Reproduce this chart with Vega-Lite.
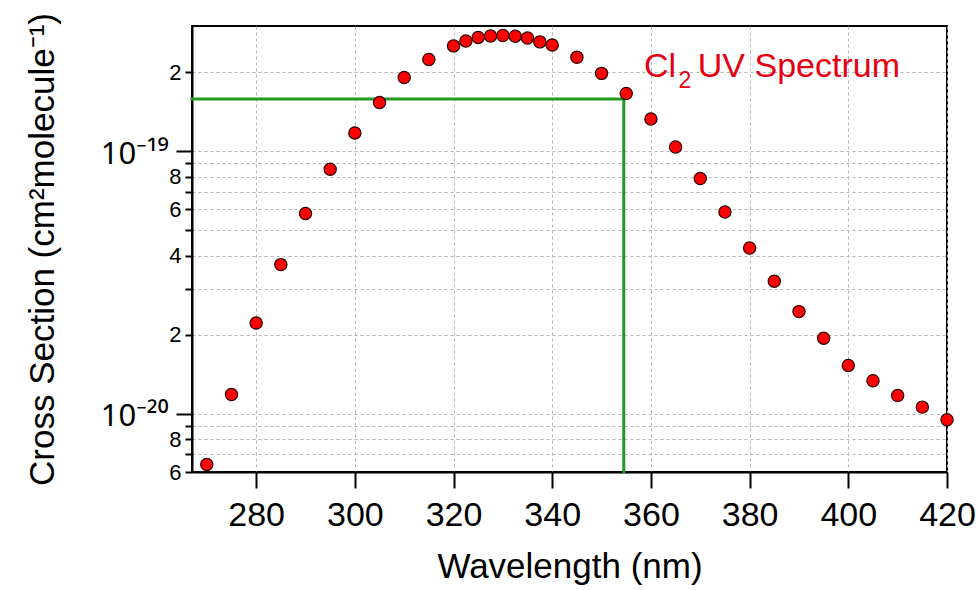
{
  "$schema": "https://vega.github.io/schema/vega-lite/v6.json",
  "width": 755,
  "height": 446,
  "autosize": {"type": "none"},
  "padding": {"left": 192, "top": 26, "right": 31, "bottom": 118},
  "background": "white",
  "config": {
    "view": {"stroke": "black", "strokeWidth": 2},
    "font": "Liberation Sans"
  },
  "encoding": {
    "x": {
      "field": "wavelength",
      "type": "quantitative",
      "scale": {"domain": [267, 420], "nice": false, "zero": false},
      "axis": {
        "title": "Wavelength (nm)",
        "values": [280, 300, 320, 340, 360, 380, 400, 420],
        "format": "d",
        "labelFont": "Liberation Sans",
        "labelFontSize": 34,
        "labelColor": "black",
        "labelFlush": false,
        "labelPadding": 10,
        "tickSize": 16,
        "tickWidth": 2,
        "tickColor": "black",
        "domainColor": "black",
        "domainWidth": 2,
        "titleFont": "Liberation Sans",
        "titleFontSize": 35,
        "titleFontWeight": "normal",
        "titleColor": "black",
        "titlePadding": 17,
        "grid": true,
        "gridColor": "#b4b4b4",
        "gridDash": [3, 3],
        "gridWidth": 1
      }
    },
    "y": {
      "field": "cs",
      "type": "quantitative",
      "scale": {"type": "log", "domain": [6e-21, 3e-19], "nice": false},
      "axis": {
        "title": "Cross Section (cm²molecule⁻¹)",
        "values": [6e-21, 7e-21, 8e-21, 9e-21, 1e-20, 2e-20, 3e-20, 4e-20, 5e-20, 6e-20, 7e-20, 8e-20, 9e-20, 1e-19, 2e-19],
        "labelExpr": "abs(log(datum.value)/LN10 - round(log(datum.value)/LN10)) < 1e-6 ? (datum.value < 5e-20 ? '10⁻²⁰' : '10⁻¹⁹') : (round(datum.value/pow(10, floor(log(datum.value)/LN10 + 1e-6))) % 2 == 0 ? toString(round(datum.value/pow(10, floor(log(datum.value)/LN10 + 1e-6)))) : '')",
        "labelOverlap": false,
        "labelFont": {"condition": {"test": "abs(log(datum.value)/LN10 - round(log(datum.value)/LN10)) < 1e-6", "value": "Noto Sans"}, "value": "Liberation Sans"},
        "labelFontSize": {"condition": {"test": "abs(log(datum.value)/LN10 - round(log(datum.value)/LN10)) < 1e-6", "value": 31}, "value": 22},
        "labelPadding": {"condition": {"test": "abs(log(datum.value)/LN10 - round(log(datum.value)/LN10)) < 1e-6", "value": 8}, "value": 4},
        "labelOffset": {"condition": {"test": "abs(log(datum.value)/LN10 - round(log(datum.value)/LN10)) < 1e-6", "value": 3}, "value": 0},
        "labelColor": "black",
        "tickSize": {"condition": {"test": "abs(log(datum.value)/LN10 - round(log(datum.value)/LN10)) < 1e-6", "value": 16}, "value": 7},
        "tickWidth": 2,
        "tickColor": "black",
        "domainColor": "black",
        "domainWidth": 2,
        "titleFont": "Liberation Sans",
        "titleFontSize": 35,
        "titleFontWeight": "normal",
        "titleColor": "black",
        "titlePadding": 40,
        "grid": true,
        "gridColor": "#b4b4b4",
        "gridDash": [3, 3],
        "gridWidth": 1
      }
    }
  },
  "layer": [
    {
      "data": {"values": [
        {"wavelength": 267, "wavelength2": 354.5, "cs": 1.583e-19, "cs2": 1.583e-19},
        {"wavelength": 354.5, "wavelength2": 354.5, "cs": 6e-21, "cs2": 1.583e-19}
      ]},
      "mark": {"type": "rule", "color": "#229a22", "strokeWidth": 3, "strokeCap": "square"},
      "encoding": {
        "x2": {"field": "wavelength2"},
        "y2": {"field": "cs2"}
      }
    },
    {
      "data": {"values": [
        {"wavelength": 270, "cs": 6.41e-21},
        {"wavelength": 275, "cs": 1.185e-20},
        {"wavelength": 280, "cs": 2.215e-20},
        {"wavelength": 285, "cs": 3.70e-20},
        {"wavelength": 290, "cs": 5.79e-20},
        {"wavelength": 295, "cs": 8.54e-20},
        {"wavelength": 300, "cs": 1.174e-19},
        {"wavelength": 305, "cs": 1.534e-19},
        {"wavelength": 310, "cs": 1.91e-19},
        {"wavelength": 315, "cs": 2.237e-19},
        {"wavelength": 320, "cs": 2.52e-19},
        {"wavelength": 322.5, "cs": 2.63e-19},
        {"wavelength": 325, "cs": 2.713e-19},
        {"wavelength": 327.5, "cs": 2.75e-19},
        {"wavelength": 330, "cs": 2.76e-19},
        {"wavelength": 332.5, "cs": 2.744e-19},
        {"wavelength": 335, "cs": 2.70e-19},
        {"wavelength": 337.5, "cs": 2.61e-19},
        {"wavelength": 340, "cs": 2.54e-19},
        {"wavelength": 345, "cs": 2.28e-19},
        {"wavelength": 350, "cs": 1.98e-19},
        {"wavelength": 355, "cs": 1.66e-19},
        {"wavelength": 360, "cs": 1.327e-19},
        {"wavelength": 365, "cs": 1.038e-19},
        {"wavelength": 370, "cs": 7.87e-20},
        {"wavelength": 375, "cs": 5.87e-20},
        {"wavelength": 380, "cs": 4.28e-20},
        {"wavelength": 385, "cs": 3.20e-20},
        {"wavelength": 390, "cs": 2.45e-20},
        {"wavelength": 395, "cs": 1.94e-20},
        {"wavelength": 400, "cs": 1.528e-20},
        {"wavelength": 405, "cs": 1.336e-20},
        {"wavelength": 410, "cs": 1.174e-20},
        {"wavelength": 415, "cs": 1.06e-20},
        {"wavelength": 420, "cs": 9.49e-21}
      ]},
      "mark": {"type": "point", "shape": "circle", "filled": true, "fill": "#ff0000", "stroke": "#2a0000", "strokeWidth": 1.2, "size": 150, "opacity": 1, "clip": false}
    },
    {
      "data": {"values": [
        {"label": "Cl", "wavelength": 358.6, "cs": 1.91e-19},
        {"label": "UV Spectrum", "wavelength": 369.5, "cs": 1.91e-19}
      ]},
      "mark": {"type": "text", "align": "left", "baseline": "alphabetic", "fontSize": 34, "font": "Liberation Sans", "color": "#e60012"},
      "encoding": {"text": {"field": "label"}}
    },
    {
      "data": {"values": [
        {"label": "2", "wavelength": 365.6, "cs": 1.74e-19}
      ]},
      "mark": {"type": "text", "align": "left", "baseline": "alphabetic", "fontSize": 23, "font": "Liberation Sans", "color": "#e60012"},
      "encoding": {"text": {"field": "label"}}
    }
  ]
}
